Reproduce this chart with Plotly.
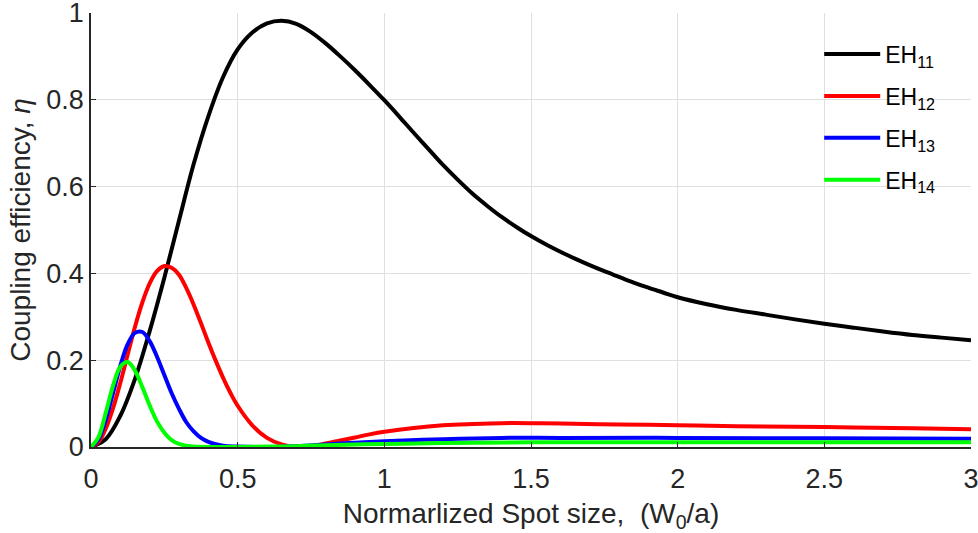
import plotly.graph_objects as go

# EH11
x_eh11 = [0, 0.05, 0.1, 0.15, 0.2, 0.25, 0.3, 0.35, 0.4, 0.45, 0.5, 0.55, 0.6, 0.65, 0.7, 0.75, 0.8, 0.85, 0.9, 0.95,
          1.0, 1.05, 1.1, 1.15, 1.2, 1.25, 1.3, 1.35, 1.4, 1.45, 1.5, 1.55, 1.6, 1.65, 1.7, 1.75, 1.8, 1.85, 1.9,
          1.95, 2.0, 2.1, 2.2, 2.3, 2.4, 2.5, 2.6, 2.7, 2.8, 2.9, 3.0]
y_eh11 = [0, 0.018, 0.072, 0.157, 0.267, 0.39, 0.522, 0.652, 0.762, 0.852, 0.916, 0.955, 0.976, 0.982, 0.975, 0.956,
          0.930, 0.900, 0.868, 0.834, 0.799, 0.762, 0.724, 0.687, 0.650, 0.616, 0.584, 0.556, 0.530, 0.507, 0.486,
          0.467, 0.450, 0.434, 0.419, 0.405, 0.392, 0.379, 0.367, 0.356, 0.345, 0.329, 0.316, 0.305, 0.294, 0.284,
          0.275, 0.266, 0.258, 0.252, 0.246]
# EH12
x_eh12 = [0, 0.025, 0.05, 0.075, 0.1, 0.125, 0.15, 0.175, 0.2, 0.225, 0.25, 0.275, 0.3, 0.325, 0.35, 0.375, 0.4,
          0.425, 0.45, 0.475, 0.5, 0.55, 0.6, 0.65, 0.7, 0.75, 0.8, 0.85, 0.9, 0.95, 1.0, 1.1, 1.2, 1.3, 1.4, 1.5,
          1.6, 1.8, 2.0, 2.2, 2.5, 2.8, 3.0]
y_eh12 = [0, 0.011, 0.042, 0.089, 0.148, 0.213, 0.277, 0.333, 0.377, 0.405, 0.417, 0.413, 0.397, 0.366, 0.328,
          0.285, 0.241, 0.199, 0.16, 0.125, 0.095, 0.05, 0.021, 0.006, 0.0, 0.002, 0.008, 0.015, 0.022, 0.029,
          0.035, 0.044, 0.05, 0.053, 0.055, 0.055, 0.054, 0.052, 0.05, 0.048, 0.046, 0.043, 0.041]
# EH13
x_eh13 = [0, 0.025, 0.05, 0.075, 0.1, 0.125, 0.15, 0.175, 0.2, 0.225, 0.25, 0.275, 0.3, 0.325, 0.35, 0.375, 0.4,
          0.45, 0.5, 0.6, 0.7, 0.8, 0.9, 1.0, 1.2, 1.4, 1.6, 2.0, 2.5, 3.0]
y_eh13 = [0, 0.017, 0.062, 0.124, 0.187, 0.237, 0.263, 0.265, 0.244, 0.208, 0.166, 0.124, 0.088, 0.057, 0.036,
          0.021, 0.012, 0.003, 0.001, 0.0, 0.002, 0.006, 0.01, 0.013, 0.018, 0.021, 0.021, 0.021, 0.02, 0.019]
# EH14
x_eh14 = [0, 0.025, 0.05, 0.075, 0.1, 0.125, 0.15, 0.175, 0.2, 0.225, 0.25, 0.275, 0.3, 0.325, 0.35, 0.4, 0.5,
          0.6, 0.7, 0.8, 1.0, 1.2, 1.5, 2.0, 2.5, 3.0]
y_eh14 = [0, 0.022, 0.078, 0.141, 0.185, 0.196, 0.176, 0.138, 0.096, 0.059, 0.033, 0.016, 0.007, 0.003, 0.001,
          0.0, 0.0, 0.001, 0.002, 0.004, 0.007, 0.009, 0.011, 0.011, 0.011, 0.011]

names = ["EH<sub>11</sub>", "EH<sub>12</sub>", "EH<sub>13</sub>", "EH<sub>14</sub>"]
colors = ["#000000", "#ff0000", "#0000ff", "#00ff00"]
xs = [x_eh11, x_eh12, x_eh13, x_eh14]
ys = [y_eh11, y_eh12, y_eh13, y_eh14]

x_ticks = [0, 0.5, 1, 1.5, 2, 2.5, 3]
x_ticklabels = ["0", "0.5", "1", "1.5", "2", "2.5", "3"]
y_ticks = [0, 0.2, 0.4, 0.6, 0.8, 1]
y_ticklabels = ["0", "0.2", "0.4", "0.6", "0.8", "1"]

fig = go.Figure()
for i, (x, y, n, c) in enumerate(zip(xs, ys, names, colors)):
    fig.add_trace(go.Scatter(x=x, y=y, name=n, mode="lines", legendgroup="g%d" % i,
                             line=dict(color=c, width=4, shape="spline", smoothing=1.0)))

font = "Liberation Sans, Arial, Helvetica, sans-serif"
fig.update_layout(
    width=978, height=533,
    margin=dict(l=91, r=7, t=13, b=86),
    plot_bgcolor="white", paper_bgcolor="white",
    font=dict(family=font, size=27, color="#262626"),
    showlegend=True,
    legend=dict(x=0.8275, y=0.955, xanchor="left", yanchor="top",
                bgcolor="rgba(0,0,0,0)", font=dict(size=23, color="#000000"),
                itemwidth=56, tracegroupgap=9),
    xaxis=dict(range=[0, 3], tickvals=x_ticks, ticktext=x_ticklabels,
               showgrid=True, gridcolor="#dfdfdf", gridwidth=1,
               showline=True, linecolor="#262626", linewidth=1.5,
               ticks="inside", ticklen=5, tickcolor="#262626",
               ticklabelstandoff=7, ticklabeloverflow="allow",
               zeroline=False, automargin=False,
               title=dict(text="Normarlized Spot size,  (W<sub>0</sub>/a)", font=dict(size=28), standoff=12)),
    yaxis=dict(range=[0, 1], tickvals=y_ticks, ticktext=y_ticklabels,
               showgrid=True, gridcolor="#dfdfdf", gridwidth=1,
               showline=True, linecolor="#262626", linewidth=1.5,
               ticks="inside", ticklen=5, tickcolor="#262626",
               ticklabelstandoff=0, ticklabeloverflow="allow",
               zeroline=False, automargin=False,
               title=dict(text="Coupling efficiency, <i>η</i>", font=dict(size=28), standoff=8)),
)

fig.write_html("out.html", config={"displayModeBar": False},
               post_script="document.body.style.margin='0';document.body.style.padding='0';")
